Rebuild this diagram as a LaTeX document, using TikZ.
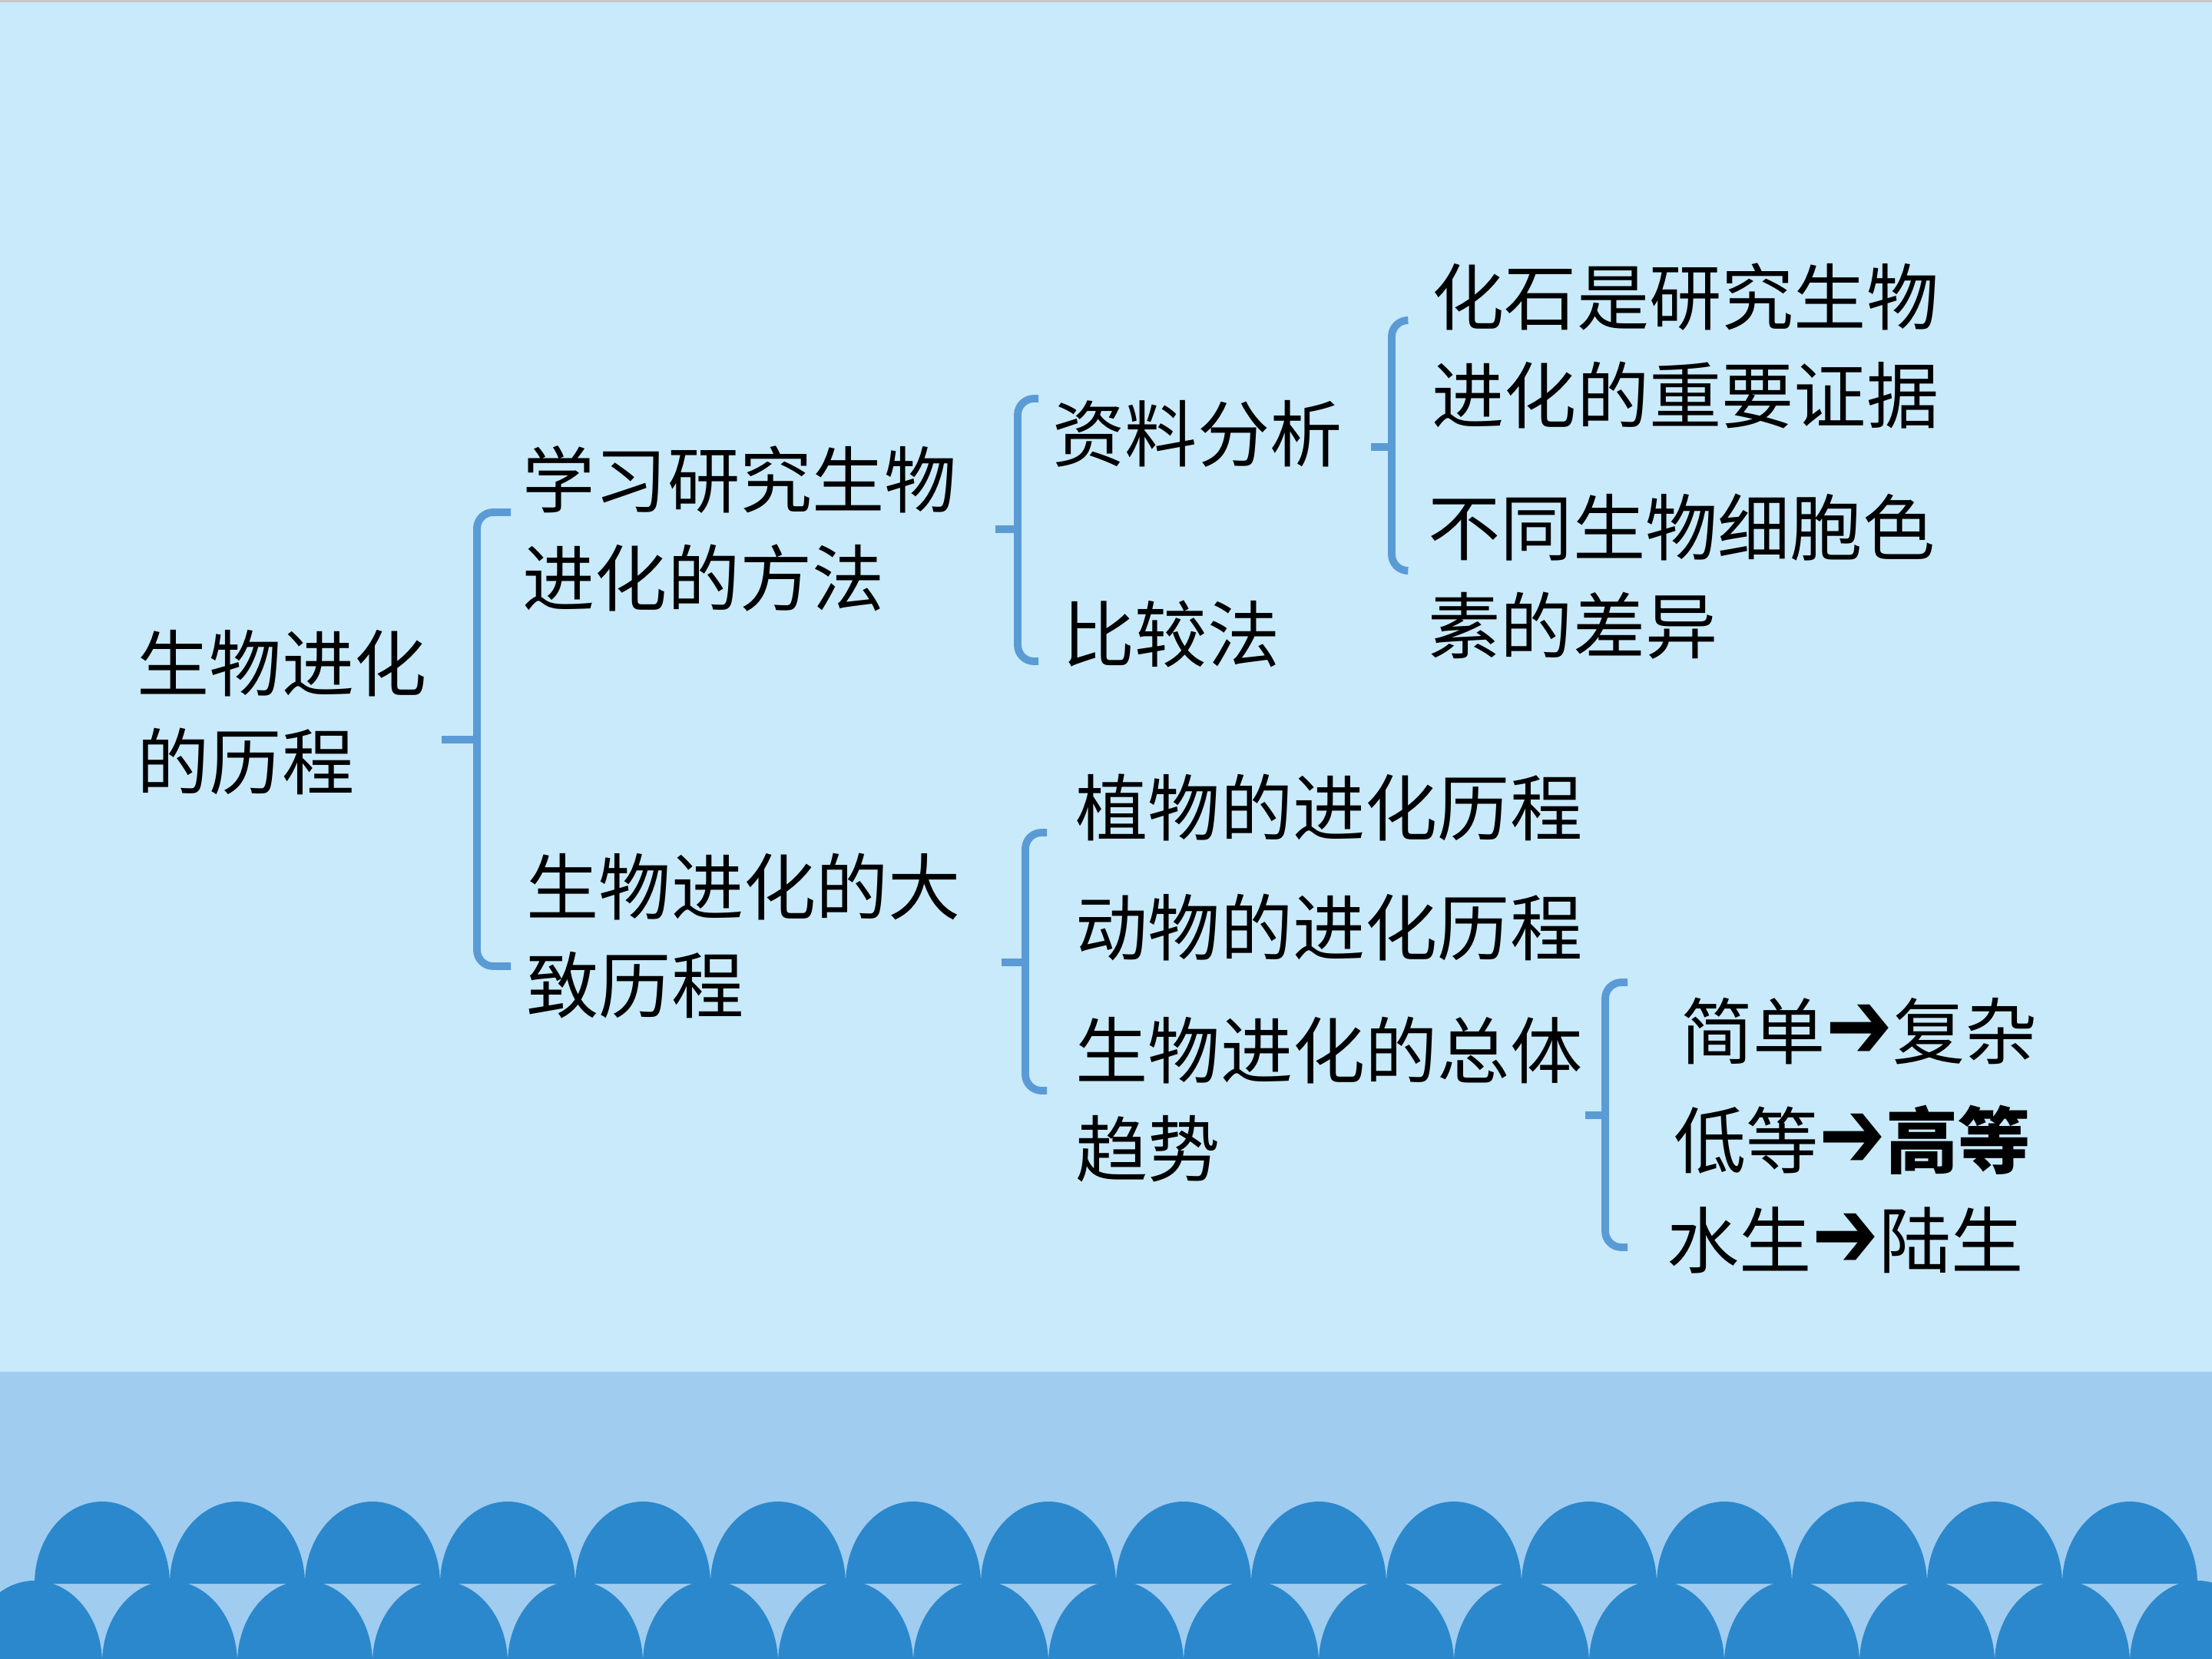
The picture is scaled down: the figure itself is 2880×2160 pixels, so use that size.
\documentclass[tikz,border=0pt]{standalone}
\usepackage{fontspec}
\setmainfont{Noto Sans CJK SC}
\newfontfamily\arrowfont{DejaVu Sans}
\definecolor{skyback}{HTML}{C8EAFB}
\definecolor{bandblue}{HTML}{A0CCF0}
\definecolor{waveblue}{HTML}{2B88CC}
\definecolor{bracketblue}{HTML}{5B9BD5}
\newcommand{\heavyarrow}{\scalebox{1.1}[1.35]{\arrowfont ➔}}

\begin{document}
\begin{tikzpicture}[x=0.01cm,y=-0.01cm]
\tikzset{
  topic/.style={anchor=west,inner sep=0pt,align=left,font=\fontsize{26.8}{36.4}\selectfont},
  bracket/.style={draw=bracketblue,line width=2.8pt,rounded corners=6pt},
  wave/.style={fill=waveblue}
}
\clip (0,0) rectangle (2880,2160);
% background and sea band
\fill[skyback] (0,0) rectangle (2880,2160);
\fill[black!22] (0,0) rectangle (2880,3);
\fill[bandblue] (0,1786) rectangle (2880,2160);
\foreach \cx in {0,...,15}
  \fill[wave] (133+176*\cx-88,2062) arc[start angle=180,end angle=360,x radius=88,y radius=107] -- cycle;
\foreach \cx in {0,...,16}
  \fill[wave] (45+176*\cx-88,2165) arc[start angle=180,end angle=360,x radius=88,y radius=107] -- cycle;

% topics
\node[topic] (n_root) at (178,928) {生物进化\\的历程};
\node[topic] (n_method) at (680,688) {学习研究生物\\进化的方法};
\node[topic] (n_course) at (685,1219) {生物进化的大\\致历程};
\node[topic] (n_data) at (1370,565) {资料分析};
\node[topic] (n_compare) at (1383,825) {比较法};
\node[topic] (n_fossil) at (1864,450) {化石是研究生物\\进化的重要证据};
\node[topic] (n_pigment) at (1859,751) {不同生物细胞色\\素的差异};
\node[topic] (n_plant) at (1400,1051) {植物的进化历程};
\node[topic] (n_animal) at (1400,1207) {动物的进化历程};
\node[topic] (n_trend) at (1400,1432) {生物进化的总体\\趋势};
\node[topic] (n_simple) at (2188,1343) {简单\heavyarrow 复杂};
\node[topic] (n_low) at (2179,1484) {低等\heavyarrow\textbf{高等}};
\node[topic] (n_water) at (2170,1615) {水生\heavyarrow 陆生};

% brackets: tip, spine, top arm, bottom arm
\coordinate (b_root_tip) at (575,963);
\coordinate (b_root_sp) at (621,963);
\coordinate (b_root_top) at (665,667);
\coordinate (b_root_bot) at (665,1258);
\coordinate (b_method_tip) at (1296,689);
\coordinate (b_method_sp) at (1325,689);
\coordinate (b_method_top) at (1352,519);
\coordinate (b_method_bot) at (1352,861);
\coordinate (b_data_tip) at (1785,582);
\coordinate (b_data_sp) at (1812,582);
\coordinate (b_data_top) at (1830,417);
\coordinate (b_data_bot) at (1830,743);
\coordinate (b_course_tip) at (1304,1253);
\coordinate (b_course_sp) at (1335,1253);
\coordinate (b_course_top) at (1363,1084);
\coordinate (b_course_bot) at (1363,1420);
\coordinate (b_trend_tip) at (2064,1452);
\coordinate (b_trend_sp) at (2090,1452);
\coordinate (b_trend_top) at (2119,1279);
\coordinate (b_trend_bot) at (2119,1624);
\foreach \b in {root,method,data,course,trend} {
  \draw[bracket] (b_\b_top) -- (b_\b_top -| b_\b_sp) -- (b_\b_bot -| b_\b_sp) -- (b_\b_bot);
  \draw[bracket] (b_\b_tip) -- (b_\b_sp);
}
\end{tikzpicture}
\end{document}
